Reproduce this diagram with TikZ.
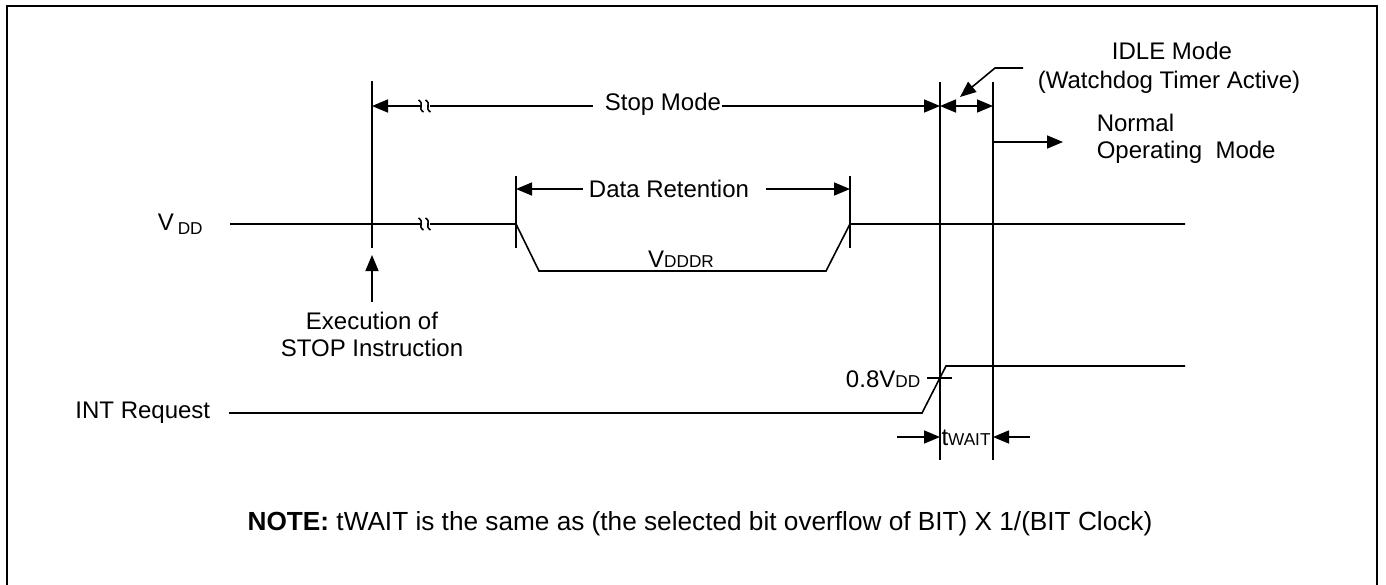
\documentclass[tikz,border=0pt]{standalone}
\usepackage{fontspec}
\setmainfont{Liberation Sans}
\usetikzlibrary{arrows.meta}
\newcommand\smallsub[1]{{\fontsize{8.6}{10}\selectfont #1}}
\begin{document}
\begin{tikzpicture}[x=0.5pt,y=-0.5pt, line width=0.8pt,
  tip/.style={-{Triangle[length=8pt,width=6.5pt]}},
  twotip/.style={{Triangle[length=8pt,width=6.5pt]}-{Triangle[length=8pt,width=6.5pt]}},
  lbl/.style={font=\fontsize{12}{14}\selectfont, inner sep=0pt},
  squig/.pic={\draw (-2.5,-6) .. controls (4,-2) and (-4,2) .. (2.5,6);}]
\useasboundingbox (0,0) rectangle (1386,584);
% frame
\draw[line width=1.1pt] (7,586) -- (7,6) -- (1377,6) -- (1377,586);
% vertical markers
\coordinate (s1t) at (372,81);  \coordinate (s1b) at (372,248);
\coordinate (d1t) at (516,176); \coordinate (d1b) at (516,248);
\coordinate (d2t) at (850,176); \coordinate (d2b) at (850,248);
\coordinate (w1t) at (940,82);  \coordinate (w1b) at (940,460);
\coordinate (w2t) at (993,82);  \coordinate (w2b) at (993,460);
\draw (s1t) -- (s1b);
\draw (d1t) -- (d1b);
\draw (d2t) -- (d2b);
\draw (w1t) -- (w1b);
\draw (w2t) -- (w2b);
% Stop mode
\node[lbl] (stop) at (663,104) {Stop Mode};
\coordinate (sa) at (372,106);
\coordinate (sb) at (940,106);
\coordinate (sw1) at (420,106);
\coordinate (sw2) at (430,106);
\draw[tip] (sw1) -- (sa);
\draw (sw2) -- (593,106);
\pic at (421,106) {squig};
\pic at (428,106) {squig};
\draw[tip] (stop.east |- sb) -- (sb);
% IDLE
\draw[twotip] (sb) -- (993,106);
\node[lbl] (idle1) at (1172,51) {IDLE Mode};
\node[lbl] (idle2) at (1169,82) {(Watchdog Timer Active)};
\coordinate (il1) at (1023,68);
\coordinate (il2) at (995,68);
\coordinate (il3) at (960,97);
\draw[tip] (il1) -- (il2) -- (il3);
% Normal
\coordinate (na) at (993,142);
\coordinate (nb) at (1063,142);
\draw[tip] (na) -- (nb);
\node[lbl, anchor=west] (norm1) at (1096,123) {Normal};
\node[lbl, anchor=west] (norm2) at (1096,152) {Operating\ \ Mode};
% Data retention
\node[lbl] (dr) at (669,189) {Data Retention};
\draw[tip] (583,189) -- (516,189);
\draw[tip] (766,189) -- (850,189);
% VDD waveform
\node[lbl, anchor=west] (vdd) at (157,224) {V\,\raisebox{-2pt}{\smallsub{DD}}};
\draw (230,224) -- (420,224);
\pic at (421,224) {squig};
\pic at (428,224) {squig};
\draw (430,224) -- (516,224) -- (539,271) -- (826,271) -- (850,224) -- (1185,224);
\node[lbl] (vdr) at (681,259) {V\smallsub{DDDR}};
% STOP instruction
\coordinate (ea) at (372,302);
\coordinate (eb) at (372,255);
\draw[tip] (ea) -- (eb);
\node[lbl] (exe1) at (372,321) {Execution of};
\node[lbl] (exe2) at (372,348) {STOP Instruction};
% INT request
\node[lbl, anchor=east] (int) at (211,413) {INT Request};
\draw (229,413) -- (922,413) -- (946,366) -- (1185,366);
\draw (927,378) -- (952,378);
\node[lbl, anchor=east] (eight) at (921,379) {0.8V\smallsub{DD}};
% tWAIT
\draw[tip] (897,437) -- (w1b |- 0,437);
\draw[tip] (1030,437) -- (w2b |- 0,437);
\node[lbl] (tw) at (966,438) {t\smallsub{WAIT}};
% note
\node[lbl, font=\fontsize{13.1}{15}\selectfont] (note) at (700,524) {\textbf{NOTE:} tWAIT is the same as (the selected bit overflow of BIT) X 1/(BIT Clock)};
\end{tikzpicture}
\end{document}
